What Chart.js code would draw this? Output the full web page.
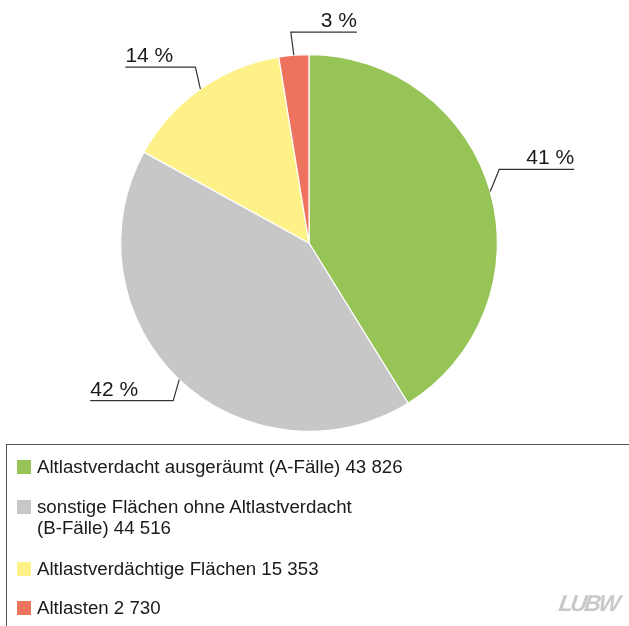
<!DOCTYPE html>
<html>
<head>
<meta charset="utf-8">
<script src="https://cdn.jsdelivr.net/npm/chart.js@4"></script>
<style>
  html, body { margin: 0; padding: 0; background: #fff; }
  #wrap { position: relative; width: 629px; height: 626px; overflow: hidden; font-family: "Liberation Sans", Arial, sans-serif; }
  #c { position: absolute; left: 0; top: 0; }
  #legend { position: absolute; left: 6px; top: 444px; width: 640px; height: 200px; border: 1.5px solid #555; box-sizing: border-box; }
  .item { position: absolute; left: 10px; font-size: 18.7px; color: #1a1a1a; line-height: 21px; }
  .sw { position: absolute; left: 0; top: 4px; width: 14px; height: 14px; }
  .txt { position: absolute; left: 20px; top: 0; white-space: nowrap; }
  #logo { position: absolute; left: 559px; top: 590px; font-size: 23px; font-weight: bold; font-style: italic; color: #c9c9c9; letter-spacing: -2.5px; font-family: "Liberation Sans Narrow", "Liberation Sans", sans-serif; transform: skewX(-8deg); }
</style>
</head>
<body>
<div id="wrap">
  <canvas id="c" width="629" height="626"></canvas>
  <div id="legend"></div>
  <div id="logo">LUBW</div>
</div>
<script>
const categories = [
  "Altlastverdacht ausgeräumt (A-Fälle)",
  "sonstige Flächen ohne Altlastverdacht\n(B-Fälle)",
  "Altlastverdächtige Flächen",
  "Altlasten"
];
const values = [43826, 44516, 15353, 2730];
const valueLabels = ["43 826", "44 516", "15 353", "2 730"];
const percentLabels = ["41 %", "42 %", "14 %", "3 %"];
const colors = ["#96c457", "#c7c7c7", "#fef187", "#ee735f"];

// leader line shape per slice: elbow offset from anchor, horizontal length, direction
const leaders = [
  { dx: 9, dy: -22, len: 75, dir: 1 },
  { dx: -6, dy: 21, len: 83, dir: -1 },
  { dx: -5, dy: -22, len: 70, dir: -1 },
  { dx: -3, dy: -23, len: 66, dir: 1 }
];

const leaderPlugin = {
  id: 'leaders',
  afterDatasetsDraw(chart) {
    const ctx = chart.ctx;
    const meta = chart.getDatasetMeta(0);
    ctx.save();
    meta.data.forEach((arc, i) => {
      const p = arc.getProps(['x', 'y', 'startAngle', 'endAngle', 'outerRadius'], true);
      const mid = (p.startAngle + p.endAngle) / 2;
      const ax = p.x + Math.cos(mid) * p.outerRadius;
      const ay = p.y + Math.sin(mid) * p.outerRadius;
      const L = leaders[i];
      const ex = ax + L.dx, ey = ay + L.dy;
      const hx = ex + L.dir * L.len;
      ctx.strokeStyle = '#333';
      ctx.lineWidth = 1.2;
      ctx.beginPath();
      ctx.moveTo(ax, ay);
      ctx.lineTo(ex, ey);
      ctx.lineTo(hx, ey);
      ctx.stroke();
      ctx.fillStyle = '#1a1a1a';
      ctx.font = '21px "Liberation Sans", Arial, sans-serif';
      ctx.textBaseline = 'alphabetic';
      ctx.textAlign = L.dir > 0 ? 'right' : 'left';
      ctx.fillText(percentLabels[i], hx, ey - 5);
    });
    ctx.restore();
  }
};

new Chart(document.getElementById('c'), {
  type: 'pie',
  data: {
    labels: categories,
    datasets: [{
      data: values,
      backgroundColor: colors,
      borderColor: '#ffffff',
      borderWidth: 1.2
    }]
  },
  options: {
    responsive: false,
    animation: false,
    layout: { padding: { left: 120, right: 131, top: 54, bottom: 194 } },
    plugins: { legend: { display: false }, tooltip: { enabled: false } }
  },
  plugins: [leaderPlugin]
});

// HTML legend
const legend = document.getElementById('legend');
const tops = [11, 51, 113, 152];
categories.forEach((c, i) => {
  const d = document.createElement('div');
  d.className = 'item';
  d.style.top = tops[i] + 'px';
  const sw = document.createElement('div');
  sw.className = 'sw';
  sw.style.background = colors[i];
  const t = document.createElement('div');
  t.className = 'txt';
  t.innerHTML = (c + ' ' + valueLabels[i]).replace('\n', '<br>');
  d.appendChild(sw); d.appendChild(t);
  legend.appendChild(d);
});
</script>
</body>
</html>
